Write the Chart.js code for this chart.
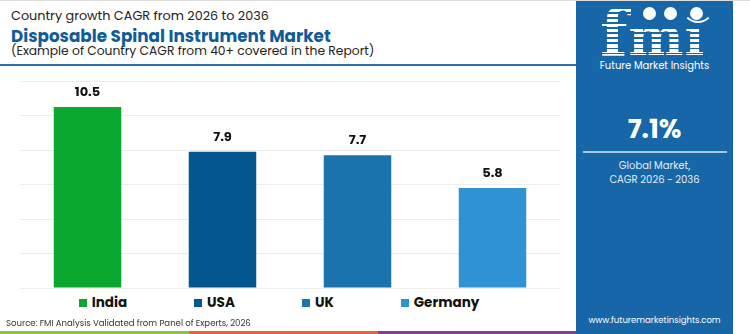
<!DOCTYPE html>
<html>
<head>
<meta charset="utf-8">
<script src="https://cdn.jsdelivr.net/npm/chart.js@4"></script>
<style>
  body { margin: 0; }
  #page { position: relative; width: 750px; height: 334px; overflow: hidden; background: #fff; font-family: "Poppins", Inter, sans-serif; border-top: 1px solid #ddd; box-sizing: border-box; }
  .t { position: absolute; left: 11px; white-space: nowrap; }
  #l1 { top: 6px; font-size: 12.8px; color: #222; }
  #l2 { top: 22px; font-size: 16.8px; font-weight: 700; color: #0f5c99; }
  #l3 { top: 41px; font-size: 12.3px; color: #222; }
  #sep { position: absolute; left: 0; top: 63px; width: 576px; height: 2px; background: #2e70aa; }
  #wrap { position: absolute; left: 0; top: 66px; width: 576px; height: 226px; }
  #legend { position: absolute; left: 0; top: 292px; width: 558px; display: flex; justify-content: center; gap: 67px; font-size: 13.5px; font-weight: 700; color: #111; }
  #legend span.item { display: flex; align-items: center; }
  #legend i { display: inline-block; width: 8px; height: 8px; margin-right: 5px; }
  #src { position: absolute; left: 6px; top: 315px; font-size: 9.5px; color: #333; white-space: nowrap; transform: scaleX(0.9); transform-origin: left; }
  .strip { position: absolute; top: 330px; height: 4px; }
  #panel { position: absolute; left: 576px; top: 0; width: 157px; height: 334px; background: #1767a8; color: #fff; text-align: center; }
  #fmi { position: absolute; left: 24px; top: 3px; line-height: 58px; font-family: "DejaVu Serif", serif; font-weight: 700; font-size: 64px; white-space: nowrap; letter-spacing: 1px;
         background: repeating-linear-gradient(to bottom, #fff 0 3.5px, rgba(255,255,255,0) 3.5px 5px); -webkit-background-clip: text; background-clip: text; color: transparent; }
  #fmi span { font-size: 52px; }
  .dot { position: absolute; width: 13px; height: 13px; border-radius: 50%; background: #fff; }
  #smile { position: absolute; left: 106px; top: 6px; width: 28px; height: 14px; border: 2px solid #fff; border-top: none; border-left-color: transparent; border-right-color: transparent; border-radius: 0 0 16px 16px; }
  #fmiName { position: absolute; left: 0; width: 157px; top: 57px; font-size: 10px; }
  #big { position: absolute; left: 0; width: 157px; top: 109px; font-size: 26px; font-weight: 700; }
  #rule { position: absolute; left: 7px; top: 150px; width: 144px; height: 2px; background: #a9c8e2; }
  #glob { position: absolute; left: 0; width: 157px; top: 158px; font-size: 10px; line-height: 14px; color: #e4edf5; }
  #web { position: absolute; left: 0; width: 157px; top: 313px; font-size: 8.5px; }
</style>
</head>
<body>
<div id="page">
  <div class="t" id="l1">Country growth CAGR from 2026 to 2036</div>
  <div class="t" id="l2">Disposable Spinal Instrument Market</div>
  <div class="t" id="l3">(Example of Country CAGR from 40+ covered in the Report)</div>
  <div id="sep"></div>
  <div id="wrap"><canvas id="cagrChart"></canvas></div>
  <div id="legend"></div>
  <div id="src">Source: FMI Analysis Validated from Panel of Experts, 2026</div>
  <div class="strip" style="left:0;width:189px;background:#8cc43f"></div>
  <div class="strip" style="left:189px;width:189px;background:#e0683a"></div>
  <div class="strip" style="left:378px;width:198px;background:#8b3a97"></div>
  <div id="panel">
    <div id="fmi">f<span>mı</span></div>
    <div id="smile"></div>
    <div class="dot" style="left:67px;top:6px"></div>
    <div class="dot" style="left:88px;top:6px"></div>
    <div class="dot" style="left:114px;top:6px"></div>
    <div id="fmiName">Future Market Insights</div>
    <div id="big">7.1%</div>
    <div id="rule"></div>
    <div id="glob">Global Market,<br>CAGR 2026 - 2036</div>
    <div id="web">www.futuremarketinsights.com</div>
  </div>
</div>
<script>
let countries = ["India", "USA", "UK", "Germany"];
let cagr = [10.5, 7.9, 7.7, 5.8];
let barColors = ["#0aa82e", "#04578e", "#1b73ae", "#2f93d3"];
let yTicks = [0, 2, 4, 6, 8, 10, 12];

// legend built from the same arrays
let legend = document.getElementById("legend");
countries.forEach((c, i) => {
    let item = document.createElement("span");
    item.className = "item";
    item.innerHTML = '<i style="background:' + barColors[i] + '"></i>' + c;
    legend.appendChild(item);
});

// value labels above each bar
const valueLabels = {
    id: "valueLabels",
    afterDatasetsDraw(chart) {
        let ctx = chart.ctx;
        let meta = chart.getDatasetMeta(0);
        ctx.save();
        ctx.font = "700 13px Poppins, Inter, sans-serif";
        ctx.fillStyle = "#111";
        ctx.textAlign = "center";
        ctx.textBaseline = "middle";
        meta.data.forEach((bar, i) => {
            ctx.fillText(cagr[i].toFixed(1), bar.x, bar.y - 14);
        });
        ctx.restore();
    }
};

new Chart(document.getElementById("cagrChart"), {
    type: "bar",
    data: {
        labels: countries,
        datasets: [{
            data: cagr,
            backgroundColor: barColors,
            categoryPercentage: 1,
            barPercentage: 0.5
        }]
    },
    options: {
        responsive: true,
        maintainAspectRatio: false,
        animation: false,
        layout: { padding: { left: 20, right: 16, top: 14, bottom: 5 } },
        plugins: { legend: { display: false }, tooltip: { enabled: false } },
        scales: {
            x: { display: false },
            y: {
                min: yTicks[0],
                max: yTicks[yTicks.length - 1],
                ticks: { display: false, stepSize: 2 },
                grid: { color: "#ececec", drawTicks: false },
                border: { display: false }
            }
        }
    },
    plugins: [valueLabels]
});
</script>
</body>
</html>
